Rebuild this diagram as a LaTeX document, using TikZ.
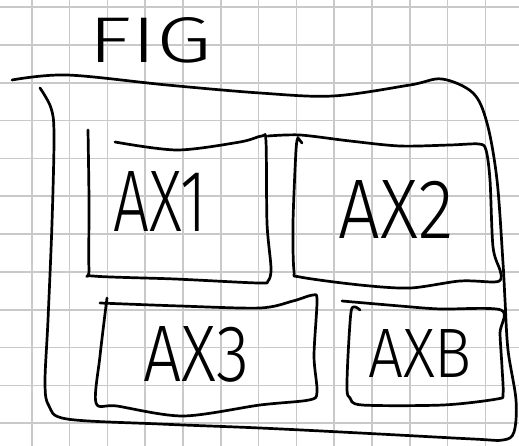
\documentclass[tikz,border=0pt]{standalone}
\usepackage{fontspec}
\usepackage{graphicx}
\IfFontExistsTF{Fira Sans Light}
  {\newfontfamily\handfont{Fira Sans Light}}
  {\IfFontExistsTF{DejaVu Sans ExtraLight}
    {\newfontfamily\handfont{DejaVu Sans ExtraLight}}
    {\newfontfamily\handfont{Fira Sans}}}
\newcommand{\handtext}[3]{\resizebox{#1pt}{#2pt}{#3}}
\colorlet{gridgray}{black!21}

\begin{document}
\begin{tikzpicture}
  [
  x=1pt, y=-1pt,
  gridline/.style={draw=gridgray, line width=1.6pt},
  sketch/.style={draw, line width=2.7pt, line cap=round, line join=round},
  handlabel/.style={font=\handfont\fontsize{60}{60}\selectfont, inner sep=0pt}
  ]
  \fill[white] (0,0) rectangle (519,446);
  \useasboundingbox (0,0) rectangle (519,446);
  % squared paper
  \foreach \gx in {0,...,12}
    \draw[gridline] ({31.7+37.8*\gx},0) -- ({31.7+37.8*\gx},446);
  \foreach \gy in {0,...,11}
    \draw[gridline] (0,{7.3+37.8*\gy}) -- (519,{7.3+37.8*\gy});

  % figure frame
  \draw[sketch] plot[smooth, tension=0.55] coordinates {
    (40,88) (51,108) (54,135) (52,223) (48,320) (45,383) (49,406) (67,419)
    (160,424) (260,428) (360,433) (473,439) (503,440) (514,432) (516,400)
    (508,350) (505,300) (503,263) (497,180) (487,123) (473,93) (442,79)
    (410,85) (333,96) (260,93) (167,85) (67,75) (12,80)};

  % axes boxes
  \draw[sketch] plot[smooth, tension=0.5] coordinates {
    (115,142) (177,150) (240,142) (262,136) (266,142) (267,223) (271,268)
    (268,281) (258,283) (175,279) (93,276) (89,270) (89,200) (88,130)};
  \draw[sketch] plot[smooth, tension=0.5] coordinates {
    (268,136) (300,135) (350,141) (400,146) (450,145) (479,144) (486,150)
    (490,180) (493,247) (500,270) (501,279) (494,282) (460,281) (410,288)
    (360,285) (300,277) (294,271) (293,223) (296,150) (298,138)}
    -- (302,143);
  \draw[sketch] plot[smooth, tension=0.5] coordinates {
    (100,303) (180,306) (260,308) (293,301) (313,295) (317,301) (314,356)
    (317,392) (309,400) (260,405) (183,416) (117,406) (96,403) (100,356)
    (107,298)};
  \draw[sketch] plot[smooth, tension=0.5] coordinates {
    (342,301) (400,306) (440,309) (501,310) (500,333) (502,367) (503,394)
    (497,399) (443,405) (362,405) (350,398) (347,390) (348,356) (351,312)
    (355,307) (360,310)};

  % labels
  \node[handlabel] (fig) at (150,40) {\handtext{124}{45}{FIG}};
  \node[handlabel] (ax1) at (160,201) {\handtext{93}{60}{AX1}};
  \node[handlabel] (ax2) at (396,209) {\handtext{115}{58}{AX2}};
  \node[handlabel] (ax3) at (196,354) {\handtext{106}{55}{AX3}};
  \node[handlabel] (axb) at (420,353) {\handtext{104}{48}{AXB}};
\end{tikzpicture}
\end{document}
